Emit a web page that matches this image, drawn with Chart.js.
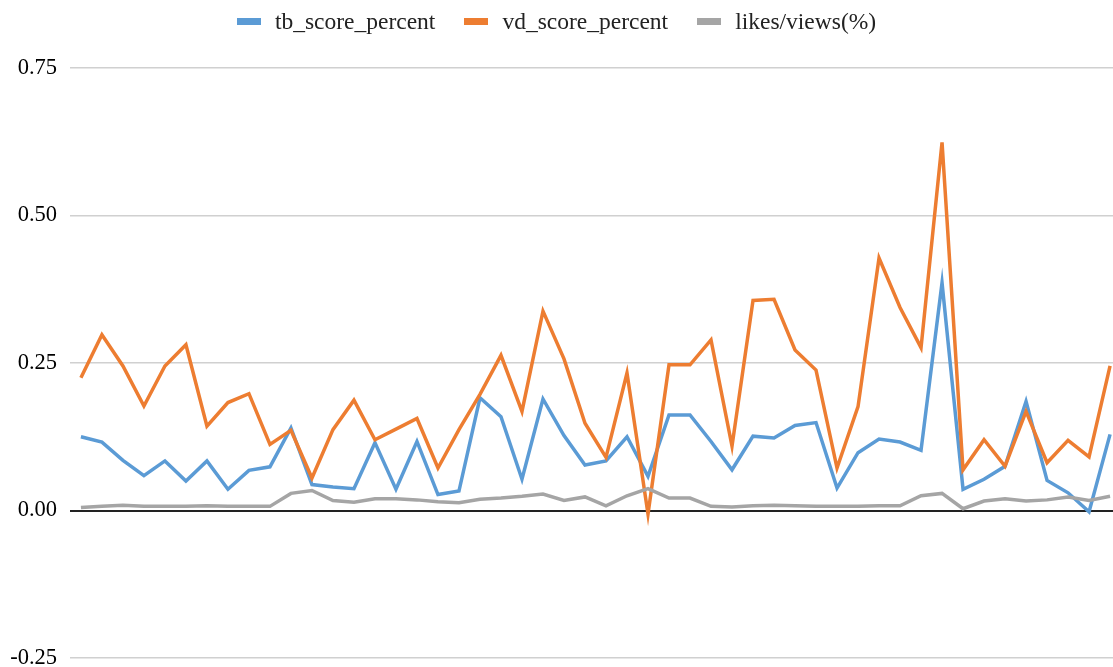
<!DOCTYPE html>
<html>
<head>
<meta charset="utf-8">
<script src="https://cdn.jsdelivr.net/npm/chart.js@4"></script>
<style>
    html, body { margin: 0; padding: 0; background: #fff; overflow: hidden; }
    #wrap { position: relative; width: 1113px; height: 667px; overflow: hidden; }
    #legend {
        position: absolute; top: 0; left: 0; width: 1113px; height: 42px;
        display: flex; justify-content: center; align-items: center; gap: 29px;
        font-family: "Liberation Serif", "Times New Roman", serif; font-size: 23.5px; color: #222;
    }
    .item { display: flex; align-items: center; gap: 14px; }
    .swatch { width: 24px; height: 7px; }
</style>
</head>
<body>
<div id="wrap">
    <canvas id="chart" width="1113" height="690"></canvas>
    <div id="legend"></div>
</div>
<script>
const categories = Array.from({ length: 50 }, (_, i) => String(i + 1));

const tbScore = [
    0.125, 0.116, 0.085, 0.059, 0.084, 0.050, 0.084, 0.036, 0.068, 0.074,
    0.140, 0.044, 0.040, 0.037, 0.115, 0.036, 0.117, 0.027, 0.033, 0.191,
    0.159, 0.053, 0.189, 0.127, 0.077, 0.084, 0.125, 0.058, 0.162, 0.162,
    0.117, 0.069, 0.126, 0.123, 0.144, 0.149, 0.038, 0.098, 0.121, 0.116,
    0.102, 0.386, 0.036, 0.053, 0.075, 0.185, 0.051, 0.030, -0.002, 0.129
];
const vdScore = [
    0.225, 0.298, 0.245, 0.177, 0.245, 0.281, 0.143, 0.183, 0.198, 0.112,
    0.136, 0.055, 0.137, 0.187, 0.120, 0.138, 0.156, 0.072, 0.137, 0.197,
    0.263, 0.168, 0.338, 0.257, 0.148, 0.090, 0.233, -0.006, 0.247, 0.247,
    0.289, 0.109, 0.356, 0.358, 0.272, 0.238, 0.072, 0.176, 0.428, 0.344,
    0.276, 0.624, 0.069, 0.120, 0.075, 0.168, 0.081, 0.119, 0.091, 0.245
];
const likesViews = [
    0.005, 0.007, 0.009, 0.007, 0.007, 0.007, 0.008, 0.007, 0.007, 0.007,
    0.029, 0.034, 0.017, 0.014, 0.020, 0.020, 0.018, 0.015, 0.013, 0.019,
    0.021, 0.024, 0.028, 0.017, 0.023, 0.008, 0.025, 0.037, 0.021, 0.021,
    0.007, 0.006, 0.008, 0.009, 0.008, 0.007, 0.007, 0.007, 0.008, 0.008,
    0.025, 0.029, 0.003, 0.016, 0.020, 0.016, 0.018, 0.023, 0.017, 0.024
];
const yTicks = [-0.25, 0, 0.25, 0.5, 0.75];

const series = [
    { label: "tb_score_percent", values: tbScore, color: "#5B9BD5", order: 3 },
    { label: "vd_score_percent", values: vdScore, color: "#ED7D31", order: 2 },
    { label: "likes/views(%)", values: likesViews, color: "#A5A5A5", order: 1 }
];

// legend as plain html, spaced like the original
const legend = document.getElementById("legend");
series.forEach(s => {
    const item = document.createElement("div");
    item.className = "item";
    item.innerHTML = `<span class="swatch" style="background:${s.color}"></span><span>${s.label}</span>`;
    legend.appendChild(item);
});

const serif = "'Liberation Serif', 'Times New Roman', serif";

// canvas is a bit taller than the window: the y axis reserves label + tick padding at the bottom
new Chart(document.getElementById("chart").getContext("2d"), {
    type: "line",
    data: {
        labels: categories,
        datasets: series.map(s => ({
            label: s.label,
            data: s.values.map((v, i) => ({ x: i, y: v })),
            borderColor: s.color,
            backgroundColor: s.color,
            borderWidth: 3.5,
            pointRadius: 0,
            tension: 0,
            fill: false,
            order: s.order
        }))
    },
    options: {
        responsive: false,
        animation: false,
        layout: { padding: { top: 68, bottom: 32, left: 0, right: 0 } },
        plugins: {
            legend: { display: false },
            tooltip: { enabled: false }
        },
        scales: {
            x: {
                type: "linear",
                display: false,
                min: -0.52,
                max: 49.14
            },
            y: {
                min: yTicks[0],
                max: yTicks[yTicks.length - 1],
                afterFit: scale => { scale.width = 70; },
                afterBuildTicks: scale => { scale.ticks = yTicks.map(v => ({ value: v })); },
                border: { display: false },
                grid: {
                    drawTicks: false,
                    color: ctx => ctx.tick && ctx.tick.value === 0 ? "#222" : "#d0d0d0",
                    lineWidth: ctx => ctx.tick && ctx.tick.value === 0 ? 2 : 1.5
                },
                ticks: {
                    padding: 13,
                    color: "#000",
                    font: { family: serif, size: 22.5 },
                    callback: value => value.toFixed(2)
                }
            }
        }
    }
});
</script>
</body>
</html>
